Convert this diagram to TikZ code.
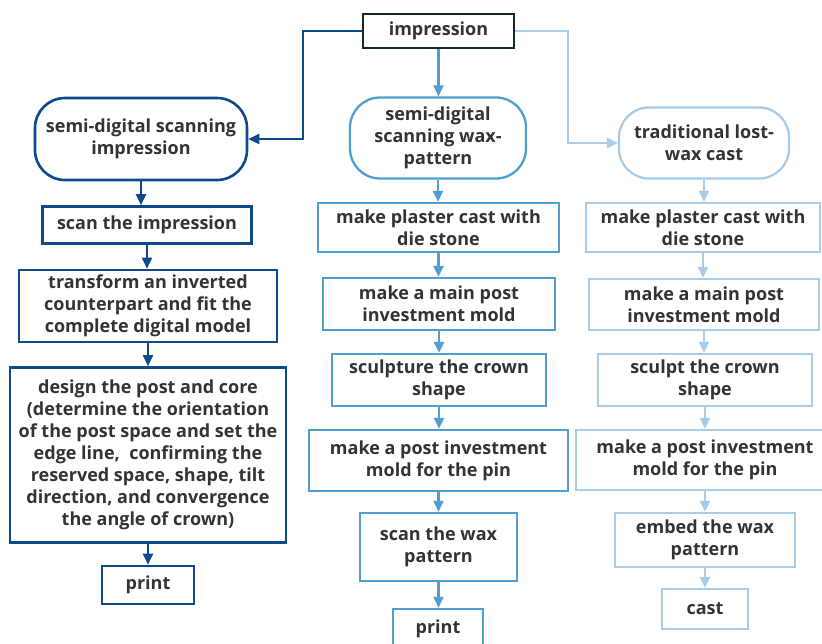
\documentclass[tikz,border=0pt]{standalone}
\usepackage{fontspec}
\setmainfont{Open Sans}
\usetikzlibrary{arrows.meta}
\definecolor{navyline}{HTML}{0D4A8C}
\definecolor{midline}{HTML}{4F9FD0}
\definecolor{paleline}{HTML}{A9CDE8}
\definecolor{inkgray}{HTML}{333333}
\definecolor{topline}{HTML}{13262B}
\tikzset{
  stepbox/.style={draw, rectangle, align=center, inner sep=0pt, text=inkgray,
    font=\fontsize{18}{22}\selectfont\bfseries},
  methodbox/.style={stepbox, rounded corners=30pt},
  navy/.style={draw=navyline, line width=2.6pt},
  mid/.style={draw=midline, line width=2.3pt},
  pale/.style={draw=paleline, line width=2.3pt},
  flow/.style={-{Triangle[length=11pt,width=10pt]}, line width=2.2pt}
}
\begin{document}
\begin{tikzpicture}[x=1pt,y=-1pt]
    \useasboundingbox (0,0) rectangle (822,643);

    % top node
    \node[stepbox, draw=topline, line width=2.6pt, minimum width=151pt, minimum height=34pt] (imp) at (438.5,31) {impression};

    % the three methods
    \node[methodbox, navy, minimum width=212pt, minimum height=82pt] (sdsi) at (141,139) {semi-digital scanning\\impression};
    \node[methodbox, mid, minimum width=176pt, minimum height=81pt] (sdsw) at (438,138) {semi-digital\\scanning wax-\\pattern};
    \node[methodbox, pale, minimum width=170pt, minimum height=71pt] (tlw) at (704,143) {traditional lost-\\wax cast};

    % left column
    \node[stepbox, navy, minimum width=209pt, minimum height=37pt] (scanimp) at (147,225) {scan the impression};
    \node[stepbox, navy, minimum width=258pt, minimum height=72pt] (fitmodel) at (148,306) {transform an inverted\\counterpart and fit the\\complete digital model};
    \node[stepbox, navy, minimum width=276pt, minimum height=175pt] (design) at (148,455) {design the post and core\\ (determine the orientation\\of the post space and set the\\edge line,\ \ confirming the\\reserved space, shape, tilt\\direction, and convergence\\the angle of crown)};
    \node[stepbox, navy, minimum width=92pt, minimum height=38pt] (printl) at (148,585) {print};

    % middle column
    \node[stepbox, mid, minimum width=241pt, minimum height=49pt] (plasterm) at (438.5,227.5) {make plaster cast with\\die stone};
    \node[stepbox, mid, minimum width=232pt, minimum height=52pt] (mainm) at (439,304) {make a main post\\investment mold};
    \node[stepbox, mid, minimum width=214pt, minimum height=52pt] (crownm) at (439,380) {sculpture the crown\\shape};
    \node[stepbox, mid, minimum width=259pt, minimum height=61pt] (pinm) at (438.5,460.5) {make a post investment\\mold for the pin};
    \node[stepbox, mid, minimum width=157pt, minimum height=68pt] (scanwax) at (438.5,547) {scan the wax\\pattern};
    \node[stepbox, mid, minimum width=90pt, minimum height=40pt] (printm) at (438,629) {print};

    % right column
    \node[stepbox, pale, minimum width=234pt, minimum height=49pt] (plasterr) at (703,227.5) {make plaster cast with\\die stone};
    \node[stepbox, pale, minimum width=230pt, minimum height=51pt] (mainr) at (704,304.5) {make a main post\\investment mold};
    \node[stepbox, pale, minimum width=214pt, minimum height=52pt] (crownr) at (705,380) {sculpt the crown\\shape};
    \node[stepbox, pale, minimum width=258pt, minimum height=60pt] (pinr) at (705,460) {make a post investment\\mold for the pin};
    \node[stepbox, pale, minimum width=180pt, minimum height=54pt] (embed) at (705,540) {embed the wax\\pattern};
    \node[stepbox, pale, minimum width=86pt, minimum height=40pt] (cast) at (705,609) {cast};

    % branches from the impression
    \draw[flow, navyline] (imp.west) -- ++(-59,0) |- (sdsi.east);
    \draw[flow, midline] (imp.south) -- (imp.south |- sdsw.north);
    \draw[flow, paleline] (imp.east) -- ++(53,0) |- (tlw.west);

    % left steps
    \foreach \a/\b in {sdsi/scanimp, scanimp/fitmodel, fitmodel/design, design/printl}
      \draw[flow, navyline] (\a.south) -- (\a.south |- \b.north);

    % middle steps
    \foreach \a/\b in {sdsw/plasterm, plasterm/mainm, mainm/crownm, crownm/pinm, pinm/scanwax, scanwax/printm}
      \draw[flow, midline] (\a.south) -- (\a.south |- \b.north);

    % right steps
    \foreach \a/\b in {tlw/plasterr, plasterr/mainr, mainr/crownr, crownr/pinr, pinr/embed, embed/cast}
      \draw[flow, paleline] (\a.south) -- (\a.south |- \b.north);
\end{tikzpicture}
\end{document}
